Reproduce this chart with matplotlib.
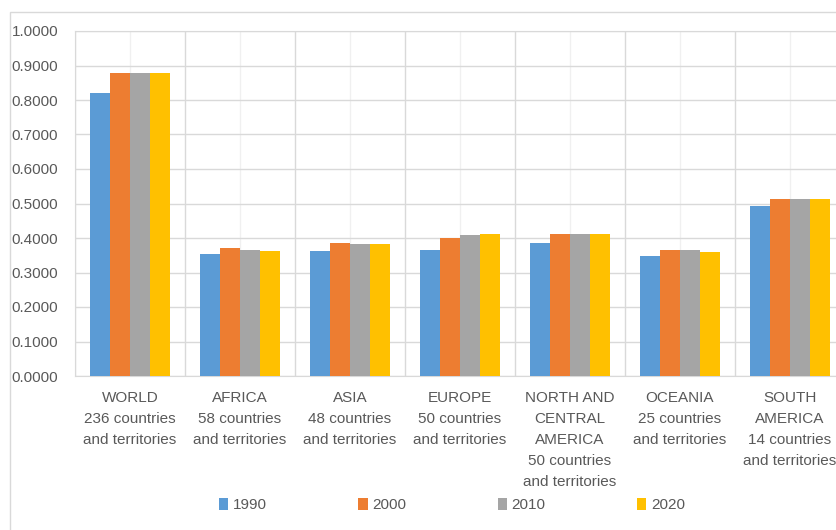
import matplotlib.pyplot as plt
import numpy as np
from matplotlib.patches import Rectangle

# data
regions = ["WORLD\n236 countries\nand territories",
           "AFRICA\n58 countries\nand territories",
           "ASIA\n48 countries\nand territories",
           "EUROPE\n50 countries\nand territories",
           "NORTH AND\nCENTRAL\nAMERICA\n50 countries\nand territories",
           "OCEANIA\n25 countries\nand territories",
           "SOUTH\nAMERICA\n14 countries\nand territories"]
years = ["1990", "2000", "2010", "2020"]
v1990 = [0.820, 0.354, 0.362, 0.365, 0.386, 0.349, 0.494]
v2000 = [0.879, 0.371, 0.386, 0.399, 0.411, 0.365, 0.513]
v2010 = [0.879, 0.365, 0.383, 0.408, 0.411, 0.365, 0.513]
v2020 = [0.879, 0.362, 0.382, 0.411, 0.411, 0.360, 0.513]
series = [v1990, v2000, v2010, v2020]
colors = ["#5B9BD5", "#ED7D31", "#A5A5A5", "#FFC000"]

plt.rcParams['font.family'] = ['Liberation Sans', 'DejaVu Sans']
txt = "#595959"
grid = "#d9d9d9"

fig = plt.figure(figsize=(8.36, 5.30), dpi=100)
ax = fig.add_axes([75/836, 1-376/530, 770/836, 345/530])

x = np.arange(len(regions))
w = 0.182
for i, vals in enumerate(series):
    ax.bar(x + (i - 1.5) * w, vals, w, color=colors[i], label=years[i], zorder=3)

ax.set_xlim(-0.5, len(regions) - 0.5)
ax.set_ylim(0, 1.0)
ax.set_yticks(np.arange(0, 1.01, 0.1))
ax.set_yticklabels(["%.4f" % t for t in np.arange(0, 1.01, 0.1)])
ax.set_xticks(x)
ax.set_xticklabels(regions, linespacing=1.63)
ax.set_xticks(np.arange(-0.5, len(regions), 1), minor=True)
ax.tick_params(axis='y', length=0, pad=12, labelsize=11, labelcolor=txt)
ax.tick_params(axis='x', which='major', length=0, pad=11, labelsize=11, labelcolor=txt)
ax.tick_params(axis='x', which='minor', length=0)

ax.yaxis.grid(True, color=grid, lw=1, zorder=0)
ax.xaxis.grid(True, which='minor', color=grid, lw=1, zorder=0)
ax.xaxis.grid(True, which='major', color="#f0f0f0", lw=1, zorder=0)
for s in ax.spines.values():
    s.set_color(grid)
ax.spines['right'].set_visible(False)

fig.patches.append(Rectangle((10/836, -0.1), 1.2, 1 - 12/530 + 0.1,
                             transform=fig.transFigure, fill=False,
                             edgecolor=grid, lw=1))

fig.legend(loc='center', bbox_to_anchor=(452/836, 1 - 505/530), ncol=4,
           frameon=False, fontsize=11, labelcolor=txt, handlelength=0.6,
           handleheight=0.9, handletextpad=0.3, columnspacing=6.0)

plt.savefig("out.png")
